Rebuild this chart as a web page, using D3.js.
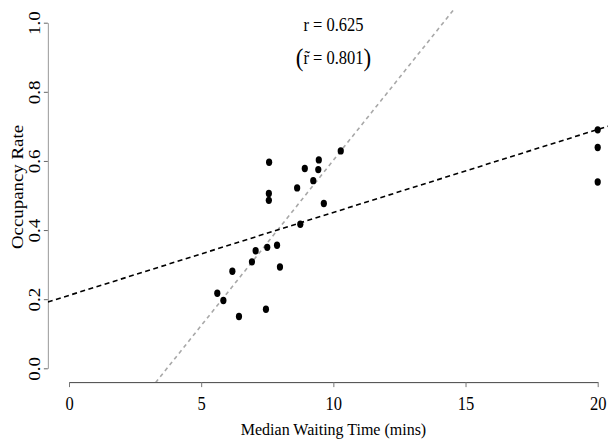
<!doctype html>
<html lang="en">
<head>
  <meta charset="utf-8">
  <title>Occupancy vs waiting time</title>
  <script src="https://d3js.org/d3.v7.min.js" charset="utf-8"></script>
</head>
<body style="margin:0;background:#fff">
<style>
.chart text {
  font-family: "Liberation Serif", "Times New Roman", serif;
  fill: #000;
}
</style>
<svg class="chart"></svg>
<script>
// values
var waitTimes = [7.57, 9.45, 10.28, 8.92, 9.43, 9.24, 8.63, 7.56, 7.56, 9.64, 8.75,
                 7.50, 7.87, 7.06, 6.92, 7.98, 6.18, 5.61, 5.84, 7.45, 6.43, 20, 20, 20];
var occupancy = [0.596, 0.603, 0.629, 0.578, 0.575, 0.543, 0.522, 0.506, 0.486, 0.477, 0.417,
                 0.350, 0.356, 0.340, 0.308, 0.293, 0.281, 0.217, 0.196, 0.171, 0.150, 0.690, 0.639, 0.539];
var xTicks = [0, 5, 10, 15, 20];
var yTicks = [0, 0.2, 0.4, 0.6, 0.8, 1.0];
// fitted lines: [intercept, slope]
var lsFit = [0.211, 0.0240];
var robustFit = [-0.355, 0.0957];
var corrLabel = "r = 0.625";
var robustLabel = "r\u0303 = 0.801";

var width = 608, height = 441;

var svg = d3.select(".chart")
  .attr("width", width)
  .attr("height", height);

var x = d3.scaleLinear().domain([0, 20]).range([69, 597.7]);
var y = d3.scaleLinear().domain([0, 1]).range([368.3, 22.7]);

// plot region, R style 4% padding
var xr = [-0.8, 20.8], yr = [-0.04, 1.04];

svg.append("clipPath").attr("id", "plotclip")
  .append("rect")
  .attr("x", x(xr[0])).attr("y", y(yr[1]))
  .attr("width", x(xr[1]) - x(xr[0]))
  .attr("height", y(yr[0]) - y(yr[1]));

// x axis
var xAxis = svg.append("g")
  .attr("transform", "translate(0," + y(yr[0]) + ")")
  .call(d3.axisBottom(x).tickValues(xTicks).tickSize(5).tickSizeOuter(0).tickFormat(d3.format("d")));
xAxis.select(".domain").attr("stroke", "#444");
xAxis.selectAll(".tick line").attr("stroke", "#777");
xAxis.selectAll(".tick text")
  .attr("y", 0).attr("dy", 0)
  .attr("transform", "translate(0,27.5) scale(1,1.08)")
  .style("font-size", "16.5px")
  .style("font-family", '"Liberation Serif", "Times New Roman", serif');

// y axis
var yAxis = svg.append("g")
  .attr("transform", "translate(" + x(xr[0]) + ",0)")
  .call(d3.axisLeft(y).tickValues(yTicks).tickSize(4).tickSizeOuter(0).tickFormat(d3.format(".1f")));
yAxis.select(".domain").attr("stroke", "#999");
yAxis.selectAll(".tick line").attr("stroke", "#666");
yAxis.selectAll(".tick text")
  .attr("x", null).attr("dy", null)
  .attr("text-anchor", "middle")
  .attr("transform", "translate(-8,0) rotate(-90) scale(1.15,1)")
  .style("font-size", "16.5px")
  .style("font-family", '"Liberation Serif", "Times New Roman", serif');

// axis titles
svg.append("text")
  .attr("text-anchor", "middle")
  .attr("transform", "translate(333.5,435) scale(1,1.08)")
  .style("font-size", "16px")
  .text("Median Waiting Time (mins)");

svg.append("text")
  .attr("text-anchor", "middle")
  .attr("transform", "translate(23,187) rotate(-90) scale(1.18,1)")
  .style("font-size", "16px")
  .text("Occupancy Rate");

// fitted lines
var plot = svg.append("g").attr("clip-path", "url(#plotclip)");

function fitLine(fit, colour, dash) {
  plot.append("line")
    .attr("x1", x(xr[0])).attr("y1", y(fit[0] + fit[1] * xr[0]))
    .attr("x2", x(xr[1])).attr("y2", y(fit[0] + fit[1] * xr[1]))
    .attr("stroke", colour)
    .attr("stroke-width", 1.6)
    .attr("stroke-dasharray", dash);
}
fitLine(robustFit, "#a8a8a8", "4,3.5");
fitLine(lsFit, "#000", "5,3.5");

// points
svg.selectAll("ellipse.pt")
  .data(waitTimes)
.enter().append("ellipse")
  .attr("class", "pt")
  .attr("cx", function(d) { return x(d); })
  .attr("cy", function(d, i) { return y(occupancy[i]); })
  .attr("rx", 3.1)
  .attr("ry", 3.7)
  .attr("fill", "#000");

// correlation labels
svg.append("text")
  .attr("text-anchor", "middle")
  .attr("transform", "translate(333.5,31) scale(1,1.08)")
  .style("font-size", "16.5px")
  .text(corrLabel);

var t2 = svg.append("text")
  .attr("text-anchor", "middle")
  .attr("transform", "translate(333.5,64) scale(1,1.08)")
  .style("font-size", "16.5px");
t2.append("tspan").style("font-size", "23px").attr("dy", 1.5).text("(");
t2.append("tspan").attr("dy", -1.5).text(robustLabel);
t2.append("tspan").style("font-size", "23px").attr("dy", 1.5).text(")");
</script>
</body>
</html>
